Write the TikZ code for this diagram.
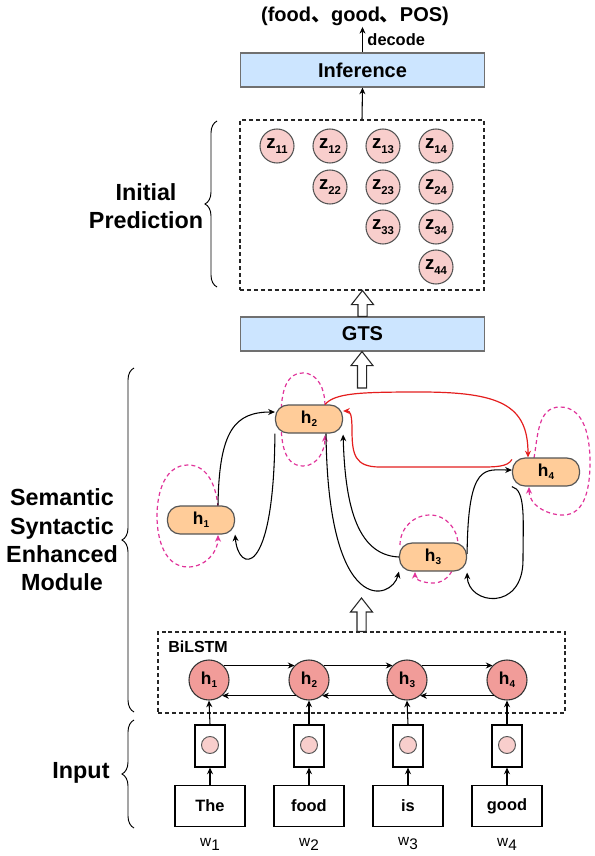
\documentclass[tikz,border=0pt]{standalone}
\usepackage{fontspec}
\setmainfont{Liberation Sans}
\newfontfamily\cjkfont{Noto Sans CJK SC}
\usetikzlibrary{arrows.meta,decorations.pathreplacing,calc,backgrounds}
\definecolor{boxblue}{HTML}{CCE5FF}
\definecolor{zpink}{HTML}{F8CECC}
\definecolor{hred}{HTML}{F19C99}
\definecolor{horange}{HTML}{FFCC99}
\definecolor{bordergray}{HTML}{707070}
\definecolor{nodegray}{HTML}{555555}
\definecolor{loopink}{HTML}{E0339A}
\definecolor{redline}{HTML}{E41E1E}
\newcommand\fsz[2]{\fontsize{#1pt}{#2pt}\selectfont}
\newcommand\hsub[1]{\raisebox{-0.35ex}{\fsz{7.5}{8}#1}}
\newcommand\zsub[1]{\raisebox{-0.45ex}{\fsz{8.5}{9}#1}}
\newcommand\blockup[2]{\draw[blockarr] let \p1=#1, \p2=#2 in
  (\x1-3.4pt,\y1) -- (\x1-3.4pt,\y2-10.5pt) -- (\x1-8.25pt,\y2-10.5pt) -- (\x1,\y2)
  -- (\x1+8.25pt,\y2-10.5pt) -- (\x1+3.4pt,\y2-10.5pt) -- (\x1+3.4pt,\y1) -- cycle;}
\begin{document}
\begin{tikzpicture}[x=0.75pt,y=0.75pt,
  bluebox/.style={draw=bordergray, fill=boxblue, line width=0.9pt, minimum width=183.5pt, minimum height=25.5pt, inner sep=0pt, font=\fsz{15}{18}\bfseries},
  dashbox/.style={draw=black!85, dash pattern=on 3pt off 2.2pt, line width=0.8pt, inner sep=0pt},
  zcirc/.style={circle, draw=nodegray, fill=zpink, minimum size=25.5pt, inner sep=0pt, line width=0.8pt, font=\fsz{14}{16}\bfseries},
  hnode/.style={rectangle, rounded corners=9.5pt, draw=nodegray, fill=horange, minimum width=50.25pt, minimum height=21pt, inner sep=0pt, line width=0.9pt, font=\fsz{13}{15}\bfseries},
  bcirc/.style={circle, draw=black!80, fill=hred, minimum size=30pt, inner sep=0pt, line width=0.8pt, font=\fsz{13}{15}\bfseries},
  ebox/.style={draw=black, line width=0.8pt, minimum width=22.5pt, minimum height=31.5pt, inner sep=0pt},
  ecirc/.style={circle, draw=nodegray, fill=zpink, minimum size=12.75pt, inner sep=0pt, line width=0.7pt},
  wbox/.style={draw=black, line width=0.8pt, minimum width=52.5pt, minimum height=30.75pt, inner sep=0pt, font=\fsz{12.3}{14}\bfseries},
  wlbl/.style={font=\fsz{11.5}{13}},
  conn/.style={line width=0.8pt, -{Stealth[length=5pt,width=4.5pt]}},
  redconn/.style={draw=redline, line width=0.9pt, -{Stealth[length=5pt,width=4.5pt]}},
  loopline/.style={draw=loopink, line width=0.9pt, dash pattern=on 3pt off 2.3pt, -{Stealth[length=5pt,width=4.5pt]}},
  blockarr/.style={draw=black!85, fill=white, line width=0.8pt},
  brc/.style={decorate, decoration={brace, amplitude=9pt}, line width=0.7pt},
  lbl/.style={font=\fsz{17.5}{21.2}\bfseries, align=center}]
\useasboundingbox (0,0) rectangle (594,-856);

% top output and inference
\node[font=\fsz{15}{18}\bfseries, inner sep=1pt] (out) at (355,-16) {(food{\cjkfont 、}good{\cjkfont 、}POS)};
\node[bluebox] (inf) at (362.5,-70) {Inference};
\draw[conn] (inf.north) -- node[right, font=\fsz{12.3}{14}\bfseries, pos=0.5] {decode} (inf.north |- out.south);

% initial prediction box
\node[dashbox, minimum width=183pt, minimum height=127.5pt] (zbox) at (362,-205) {};
\draw[conn] (zbox.north) -- (inf.south);
\node[zcirc] (z11) at (277,-146) {z\zsub{11}};
\node[zcirc] (z12) at (330,-146) {z\zsub{12}};
\node[zcirc] (z13) at (383,-146) {z\zsub{13}};
\node[zcirc] (z14) at (436,-146) {z\zsub{14}};
\node[zcirc] (z22) at (330,-187) {z\zsub{22}};
\node[zcirc] (z23) at (383,-187) {z\zsub{23}};
\node[zcirc] (z24) at (436,-187) {z\zsub{24}};
\node[zcirc] (z33) at (383,-227) {z\zsub{33}};
\node[zcirc] (z34) at (436,-227) {z\zsub{34}};
\node[zcirc] (z44) at (436,-267) {z\zsub{44}};

% GTS
\node[bluebox] (gts) at (362.5,-334) {GTS};
\blockup{(gts.north)}{(zbox.south)}
\coordinate (ssemtop) at (362,-388);
\blockup{(ssemtop)}{(gts.south)}

% graph nodes
\node[hnode] (h1) at (201,-520) {h\hsub{1}};
\node[hnode] (h2) at (309,-419) {h\hsub{2}};
\node[hnode] (h3) at (433,-557) {h\hsub{3}};
\node[hnode] (h4) at (546,-472) {h\hsub{4}};

\begin{scope}[on background layer]
\draw[loopline] ($(h1)+(17,13)$) to[out=95,in=0] ($(h1)+(-13,55)$) to[out=180,in=90] ($(h1)+(-44,4)$)
  to[out=-90,in=180] ($(h1)+(-13,-47)$) to[out=0,in=-90] ($(h1)+(17,-15)$);
\draw[loopline] ($(h2)+(16,14)$) to[out=90,in=0] ($(h2)+(-6,46)$) to[out=180,in=90] ($(h2)+(-28,0)$)
  to[out=-90,in=180] ($(h2)+(-6,-47)$) to[out=0,in=-90] ($(h2)+(16,-16)$);
\draw[loopline] ($(h3)+(-33,12)$) to[out=90,in=180] ($(h3)+(-3,42)$) to[out=0,in=90] ($(h3)+(25,12)$)
  to[out=-90,in=0] ($(h3)+(0,-26)$) to[out=180,in=-90] ($(h3)+(-18,-15)$);
\draw[loopline] ($(h4)+(-12,14)$) to[out=80,in=180] ($(h4)+(14,65)$) to[out=0,in=90] ($(h4)+(44,10)$)
  to[out=-90,in=0] ($(h4)+(17,-43)$) to[out=180,in=-90] ($(h4)+(-17,-15)$);
\end{scope}

% black connectors
\draw[conn] ($(h1.north)+(17,0)$) .. controls (219,-430) and (235,-412) .. ($(h2.west)+(0,7)$);
\draw[conn] (h2.south west) .. controls (274,-582) and (238,-572) .. (h1.south east);
\draw[conn] ($(h2.south)+(17,0)$) .. controls (328,-620) and (392,-600) .. (h3.south west);
\draw[conn] (h3.west) .. controls (355,-555) and (345,-500) .. ($(h2.south east)+(0,-1)$);
\draw[conn] ($(h3.east)+(0,3)$) .. controls (468,-462) and (485,-470) .. ($(h4.west)+(0,2)$);
\draw[conn] (h4.south west) .. controls (526,-490) and (523,-520) .. (523,-560)
  .. controls (523,-612) and (468,-605) .. ($(h3.south east)+(0,-1)$);

% red connectors
\draw[redconn] ($(h2.north)+(16,0)$) .. controls (335,-393) and (360,-392) .. (420,-392)
  .. controls (500,-392) and (528,-405) .. ($(h4.north)+(-18,0)$);
\draw[redconn] ($(h4.north west)+(0,-2)$) .. controls (508,-467) and (495,-467) .. (480,-467) -- (380,-467)
  .. controls (355,-467) and (352,-455) .. (352,-430) .. controls (352,-414) and (350,-411) .. ($(h2.east)+(0,8)$);

% BiLSTM
\node[dashbox, minimum width=305.25pt, minimum height=60.75pt] (bil) at (361.5,-672.5) {};
\node[anchor=west, inner sep=0pt, font=\fsz{12}{14}\bfseries] (biltxt) at (168,-646.5) {BiLSTM};
\coordinate (biltip) at (361,-598);
\blockup{(bil.north)}{(biltip)}
\node[bcirc] (b1) at (209,-680) {h\hsub{1}};
\node[bcirc] (b2) at (309,-680) {h\hsub{2}};
\node[bcirc] (b3) at (407,-680) {h\hsub{3}};
\node[bcirc] (b4) at (507,-680) {h\hsub{4}};
\foreach \a/\b in {b1/b2,b2/b3,b3/b4}{
  \draw[conn] (\a.45) -- (\b.135);
  \draw[conn] (\b.-130) -- (\a.-50);
}

% input
\foreach \i/\x/\w in {1/210/The,2/309/food,3/408/is,4/507/good}{
  \node[ebox] (e\i) at (\x,-746) {};
  \node[ecirc] (c\i) at (\x,-745) {};
  \node[wbox] (t\i) at (\x,-806) {\w};
  \node[wlbl] (w\i) at (\x,-844) {w\raisebox{-3pt}{\i}};
  \draw[conn] (t\i.north) -- (e\i.south);
  \draw[conn] (e\i.north) -- (b\i.south);
}

% braces and labels
\draw[brc] (217,-287) -- (217,-121);
\draw[brc] (134,-712) -- (134,-368);
\draw[brc] (134,-828) -- (134,-720);
\node[lbl] (ip) at (146,-206) {Initial\\Prediction};
\node[lbl] (ssem) at (62,-540) {Semantic\\Syntactic\\Enhanced\\Module};
\node[lbl] (inp) at (81,-773) {Input};
\end{tikzpicture}
\end{document}
